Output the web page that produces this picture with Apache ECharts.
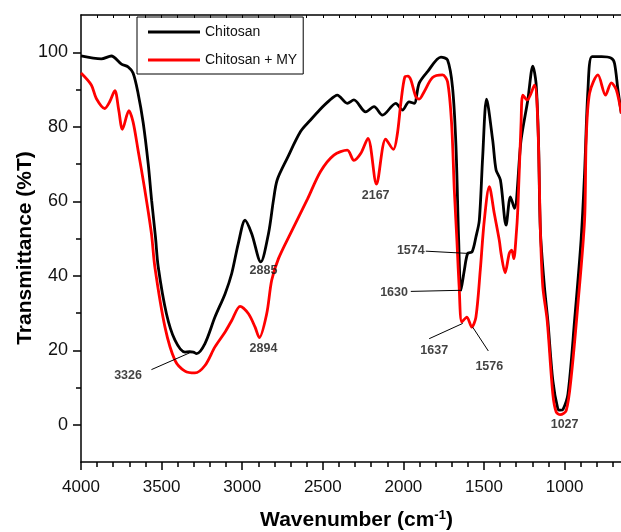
<!DOCTYPE html>
<html>
<head>
<meta charset="utf-8">
<script src="https://cdn.jsdelivr.net/npm/echarts@6/dist/echarts.min.js"></script>
<style>html,body{margin:0;padding:0;background:#fff}#c{width:621px;height:532px}</style>
</head>
<body>
<div id="c"></div>
<script>
// ---- data ----
const seriesNames = ['Chitosan', 'Chitosan + MY'];

const chitosanWN = [4000,3874,3812,3749,3708,3677,3646,3614,3583,3562,3538,3521,3470,3417,3355,3326,3303,3283,3231,3169,3106,3065,3024,2982,2941,2885,2837,2806,2783,2721,2638,2576,2520,2460,2410,2348,2307,2234,2182,2130,2047,2006,1965,1933,1902,1850,1767,1726,1695,1674,1657,1643,1622,1601,1574,1550,1529,1508,1484,1446,1425,1398,1363,1336,1311,1270,1228,1197,1177,1162,1150,1125,1104,1073,1042,1027,1010,979,938,897,876,855,830,770,710,690,669,648];
const chitosanT = [99.0,98.2,99.0,96.8,96.1,94.4,89.0,81.0,70.0,60.3,50.4,42.4,29.8,22.7,19.5,19.6,19.5,19.1,21.8,28.9,35.2,40.6,48.7,54.9,51.3,43.7,51.3,60.3,65.7,71.5,78.7,81.8,84.5,87.0,88.5,86.3,87.2,84.0,85.4,83.1,86.3,84.5,86.7,86.3,91.7,94.8,98.7,97.9,90.5,75.0,49.5,36.1,41.5,46.0,46.4,50.4,54.9,72.0,87.4,76.4,68.4,65.7,53.6,61.2,58.1,76.4,87.2,96.3,91.7,76.4,52.0,37.0,28.0,11.9,4.3,3.9,4.1,8.3,28.0,50.0,67.5,89.9,98.8,98.8,98.4,97.0,89.9,83.6];

const myWN = [4000,3936,3905,3853,3822,3790,3766,3743,3703,3677,3646,3604,3563,3542,3479,3417,3355,3293,3231,3169,3106,3065,3013,2961,2920,2894,2848,2817,2775,2700,2596,2514,2431,2348,2307,2265,2220,2167,2110,2062,2037,2016,1991,1972,1954,1923,1902,1871,1819,1757,1726,1701,1684,1668,1654,1637,1606,1576,1550,1523,1498,1467,1436,1405,1394,1369,1343,1328,1315,1301,1290,1270,1259,1232,1187,1166,1150,1135,1108,1073,1052,1027,990,959,917,876,866,845,793,746,710,679,648];
const myT = [94.4,91.2,87.6,84.9,86.7,89.7,84.5,79.3,84.3,81.3,73.7,63.0,51.3,42.4,26.2,17.3,14.4,13.9,15.9,20.9,24.9,28.0,31.8,29.8,26.2,23.4,29.8,38.8,44.6,51.4,60.5,68.0,72.4,73.7,71.0,72.8,76.9,64.6,76.7,73.9,78.2,86.3,93.4,93.6,92.6,88.1,87.4,89.4,93.2,93.9,92.1,80.9,63.0,49.5,37.0,27.6,28.9,26.2,28.9,41.5,54.9,63.9,56.7,49.5,46.0,40.8,46.0,46.9,44.6,50.4,58.0,80.9,88.5,87.2,91.2,80.9,52.0,37.0,28.0,8.3,3.4,2.7,3.8,12.8,32.5,54.9,76.4,89.0,93.9,88.5,91.8,89.9,83.6];

const xMajorTicks = [1000,1500,2000,2500,3000,3500,4000];
const xMinorTicks = [700,800,900,1100,1200,1300,1400,1600,1700,1800,1900,2100,2200,2300,2400,2600,2700,2800,2900,3100,3200,3300,3400,3600,3700,3800,3900];
const xTopTicks = [700,800,900,1000,1100,1200,1300,1400,1500,1600,1700,1800,1900,2000,2100,2200,2300,2400,2500,2600,2700,2800,2900,3000,3100,3200,3300,3400,3500,3600,3700,3800,3900];
const yMajorTicks = [0,20,40,60,80,100];
const yMinorTicks = [10,30,50,70,90];

// peak annotations: label text, anchor [wavenumber, %T]
const annotLabels = ['3326','2885','2894','2167','1574','1630','1637','1576','1027'];
const annotPos = [[3708,13.1],[2868,41.3],[2868,20.5],[2172,61.6],[1954,46.9],[2058,35.5],[1809,19.8],[1467,15.7],[1000,0.1]];
// leader lines: [from, to]
const leaderLines = [
  [[3563,14.8],[3326,19.3]],
  [[1861,46.6],[1601,46.0]],
  [[1954,35.8],[1637,36.1]],
  [[1840,23.1],[1632,27.2]],
  [[1570,26.2],[1473,19.8]]
];

// ---- chart ----
const FONT = '"Liberation Sans", Arial, sans-serif';
const pairs = (xs, ys) => xs.map((x, i) => [x, ys[i]]);
const chart = echarts.init(document.getElementById('c'), null, {renderer: 'canvas'});

const baseX = {type: 'value', inverse: true, min: 650, max: 4000, splitLine: {show: false}};
const baseY = {type: 'value', min: -10, max: 110, splitLine: {show: false}};

chart.setOption({
  animation: false,
  backgroundColor: '#fff',
  grid: {left: 81, top: 15, right: 0, bottom: 70, outerBoundsMode: 'none', containLabel: false},
  legend: {
    orient: 'vertical', left: 137, top: 17,
    padding: [8, 6, 7, 11], itemGap: 14, itemWidth: 52, itemHeight: 3,
    icon: 'rect',
    borderColor: '#000', borderWidth: 1,
    textStyle: {fontFamily: FONT, fontSize: 14, color: '#111', lineHeight: 14},
    data: seriesNames
  },
  xAxis: [
    Object.assign({}, baseX, {
      position: 'bottom',
      name: 'Wavenumber (cm{sup|-1}{b|)}',
      nameLocation: 'middle', nameGap: 47, nameMoveOverlap: false,
      nameTextStyle: {fontFamily: FONT, fontSize: 21, fontWeight: 'bold', color: '#000', padding: [0,0,0,11],
        rich: {sup: {fontFamily: FONT, fontSize: 13, fontWeight: 'bold', color: '#000', verticalAlign: 'top', padding: [0,0,10,0]},
               b: {fontFamily: FONT, fontSize: 21, fontWeight: 'bold', color: '#000'}}},
      axisLine: {show: true, onZero: false, lineStyle: {color: '#000', width: 1.5}},
      axisTick: {show: true, inside: false, length: 8, lineStyle: {color: '#000', width: 1.5}, customValues: xMajorTicks},
      axisLabel: {show: true, margin: 17, fontFamily: FONT, fontSize: 17, color: '#111', customValues: xMajorTicks, formatter: v => String(v)}
    }),
    Object.assign({}, baseX, {
      position: 'bottom',
      axisLine: {show: false, onZero: false},
      axisTick: {show: true, inside: false, length: 5, lineStyle: {color: '#000', width: 1.5}, customValues: xMinorTicks},
      axisLabel: {show: false}
    }),
    Object.assign({}, baseX, {
      position: 'top',
      axisLine: {show: true, onZero: false, lineStyle: {color: '#000', width: 1.5}},
      axisTick: {show: true, inside: true, length: 3, lineStyle: {color: '#000', width: 1}, customValues: xTopTicks},
      axisLabel: {show: false}
    })
  ],
  yAxis: [
    Object.assign({}, baseY, {
      position: 'left',
      name: 'Transmittance (%T)',
      nameLocation: 'middle', nameGap: 45, nameRotate: 90, nameMoveOverlap: false,
      nameTextStyle: {fontFamily: FONT, fontSize: 21, fontWeight: 'bold', color: '#000', padding: [0, 19, 0, 0]},
      axisLine: {show: true, onZero: false, lineStyle: {color: '#000', width: 1.5}},
      axisTick: {show: true, inside: false, length: 8, lineStyle: {color: '#000', width: 1.5}, customValues: yMajorTicks},
      axisLabel: {show: true, margin: 13, fontFamily: FONT, fontSize: 18, color: '#111', customValues: yMajorTicks, formatter: v => String(v)}
    }),
    Object.assign({}, baseY, {
      position: 'left',
      axisLine: {show: false, onZero: false},
      axisTick: {show: true, inside: false, length: 5, lineStyle: {color: '#000', width: 1.5}, customValues: yMinorTicks},
      axisLabel: {show: false}
    })
  ],
  series: [
    {
      name: seriesNames[0], type: 'line', xAxisIndex: 0, yAxisIndex: 0,
      data: pairs(chitosanWN, chitosanT),
      symbol: 'none', smooth: 0.3, z: 3,
      lineStyle: {color: '#000', width: 2.8}, itemStyle: {color: '#000'}
    },
    {
      name: seriesNames[1], type: 'line', xAxisIndex: 0, yAxisIndex: 0,
      data: pairs(myWN, myT),
      symbol: 'none', smooth: 0.3, z: 4,
      lineStyle: {color: '#ff0000', width: 2.8}, itemStyle: {color: '#ff0000'}
    },
    {
      name: 'annotations', type: 'scatter', xAxisIndex: 0, yAxisIndex: 0,
      symbolSize: 0, silent: true, z: 6,
      data: annotPos.map((p, i) => ({value: p, name: annotLabels[i]})),
      label: {show: true, position: 'inside', formatter: '{b}', fontFamily: FONT, fontSize: 12.5, fontWeight: 'bold', color: '#111'},
      markLine: {
        silent: true, symbol: 'none', animation: false,
        label: {show: false},
        lineStyle: {color: '#000', width: 1, type: 'solid'},
        emphasis: {disabled: true},
        data: leaderLines.map(l => [{coord: l[0]}, {coord: l[1]}])
      }
    }
  ]
});
</script>
</body>
</html>
